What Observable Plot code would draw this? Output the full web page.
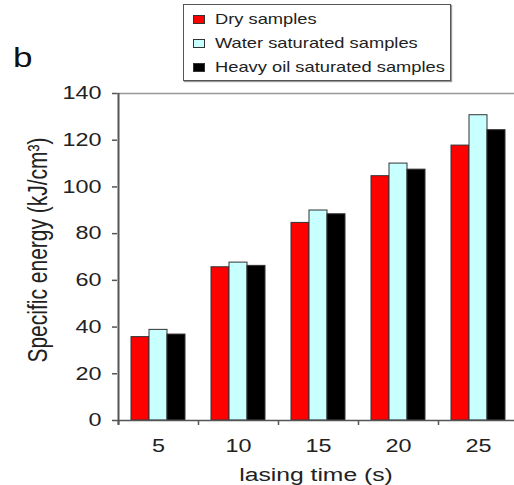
<!DOCTYPE html>
<html>
<head>
<meta charset="utf-8">
<script src="https://cdn.jsdelivr.net/npm/d3@7"></script>
<script src="https://cdn.jsdelivr.net/npm/@observablehq/plot@0.6"></script>
<style>
  html, body { margin: 0; padding: 0; background: #fff; }
  #wrap { position: relative; width: 514px; height: 485px; overflow: hidden; font-family: "Liberation Sans", Arial, sans-serif; }
  #chart { position: absolute; left: 0; top: 0; }
  #panel { position: absolute; left: 13px; top: 45px; font-size: 27px; line-height: 27px; color: #111; transform: scaleX(1.3); transform-origin: left center; }
  #legend { position: absolute; left: 183px; top: 4px; width: 268px; height: 77px; box-sizing: border-box; border: 1.5px solid #555; box-shadow: 1px 1px 1px #999; background: #fff; }
  .sw { position: absolute; left: 193px; width: 12px; height: 9px; box-sizing: border-box; border: 1px solid #333; }
  .lt { position: absolute; left: 215px; font-size: 15px; line-height: 18px; color: #222; white-space: nowrap; transform: scaleX(1.22); transform-origin: left center; }
</style>
</head>
<body>
<div id="wrap">
  <div id="chart"></div>
  <div id="panel">b</div>
  <div id="legend"></div>
</div>
<script>
const times = [5, 10, 15, 20, 25];
const series = ["Dry samples", "Water saturated samples", "Heavy oil saturated samples"];
const colors = ["#ff0000", "#c8ffff", "#000000"];
const dry = [35.7, 65.6, 84.6, 104.6, 117.7];
const water = [38.8, 67.6, 89.9, 110.0, 130.7];
const heavyOil = [36.8, 66.2, 88.3, 107.4, 124.3];
const yTicks = [0, 20, 40, 60, 80, 100, 120, 140];
const xLabel = "lasing time (s)";
const yLabel = "Specific energy (kJ/cm³)";

const values = [dry, water, heavyOil];
const rows = [];
times.forEach((t, j) => series.forEach((s, i) => rows.push({time: t, series: s, i, value: values[i][j]})));

const bw = 1.125; // bar width in time units
const bandEdges = [2.5, 7.5, 12.5, 17.5, 22.5, 27.5];

const chart = Plot.plot({
  width: 514,
  height: 485,
  marginTop: 93,
  marginBottom: 65,
  marginLeft: 117,
  marginRight: 0,
  style: {fontFamily: "Liberation Sans, Arial, sans-serif", color: "#222", background: "transparent", overflow: "visible"},
  x: {domain: [2.5, 27.5], range: [118, 518]},
  y: {domain: [0, 140], range: [420, 93]},
  color: {domain: series, range: colors},
  marks: [
    Plot.ruleY([140], {stroke: "#999", strokeWidth: 1.5}),
    Plot.rectY(rows, {
      x1: d => d.time + (d.i - 1.5) * bw,
      x2: d => d.time + (d.i - 0.5) * bw,
      y1: 0,
      y2: "value",
      fill: "series",
      stroke: "#333",
      strokeWidth: 1
    }),
    Plot.ruleY([0], {stroke: "#555", strokeWidth: 1.5}),
    Plot.axisX({ticks: bandEdges, tickFormat: () => "", tickSize: 5, stroke: "#555", strokeWidth: 1.5, label: null}),
    Plot.axisX({ticks: times, tickSize: 0, tickPadding: 19, fontSize: 18, label: null}),
    Plot.ruleX([2.5], {y1: -2, y2: 140, stroke: "#555", strokeWidth: 2}),
    Plot.axisY({ticks: yTicks, tickSize: 5, tickPadding: 11, fontSize: 18, stroke: "#555", strokeWidth: 1.5, label: null}),
    Plot.text([xLabel], {frameAnchor: "bottom", lineAnchor: "bottom", dy: 60, fontSize: 19, fill: "#222"}),
    Plot.text([yLabel], {frameAnchor: "left", textAnchor: "middle", lineAnchor: "bottom", rotate: -90, dx: -71, dy: -7, fontSize: 21, fill: "#222"})
  ]
});
document.getElementById("chart").appendChild(chart);

// the reference's lettering is horizontally stretched
chart.querySelectorAll("text").forEach(t => {
  const tr = t.getAttribute("transform") || "";
  if (tr.includes("rotate")) {
    t.setAttribute("transform", `${tr} scale(1,1.3)`);
  } else {
    const x = parseFloat(t.getAttribute("x")) || 0;
    t.setAttribute("transform", `${tr} translate(${x},0) scale(1.3,1) translate(${-x},0)`);
  }
});

const wrap = document.getElementById("wrap");
const centers = [19, 43, 67];
series.forEach((s, i) => {
  const sw = document.createElement("div");
  sw.className = "sw";
  sw.style.top = (centers[i] - 4.5) + "px";
  sw.style.background = colors[i];
  wrap.appendChild(sw);
  const lt = document.createElement("div");
  lt.className = "lt";
  lt.style.top = (centers[i] - 9) + "px";
  lt.textContent = s;
  wrap.appendChild(lt);
});
</script>
</body>
</html>
